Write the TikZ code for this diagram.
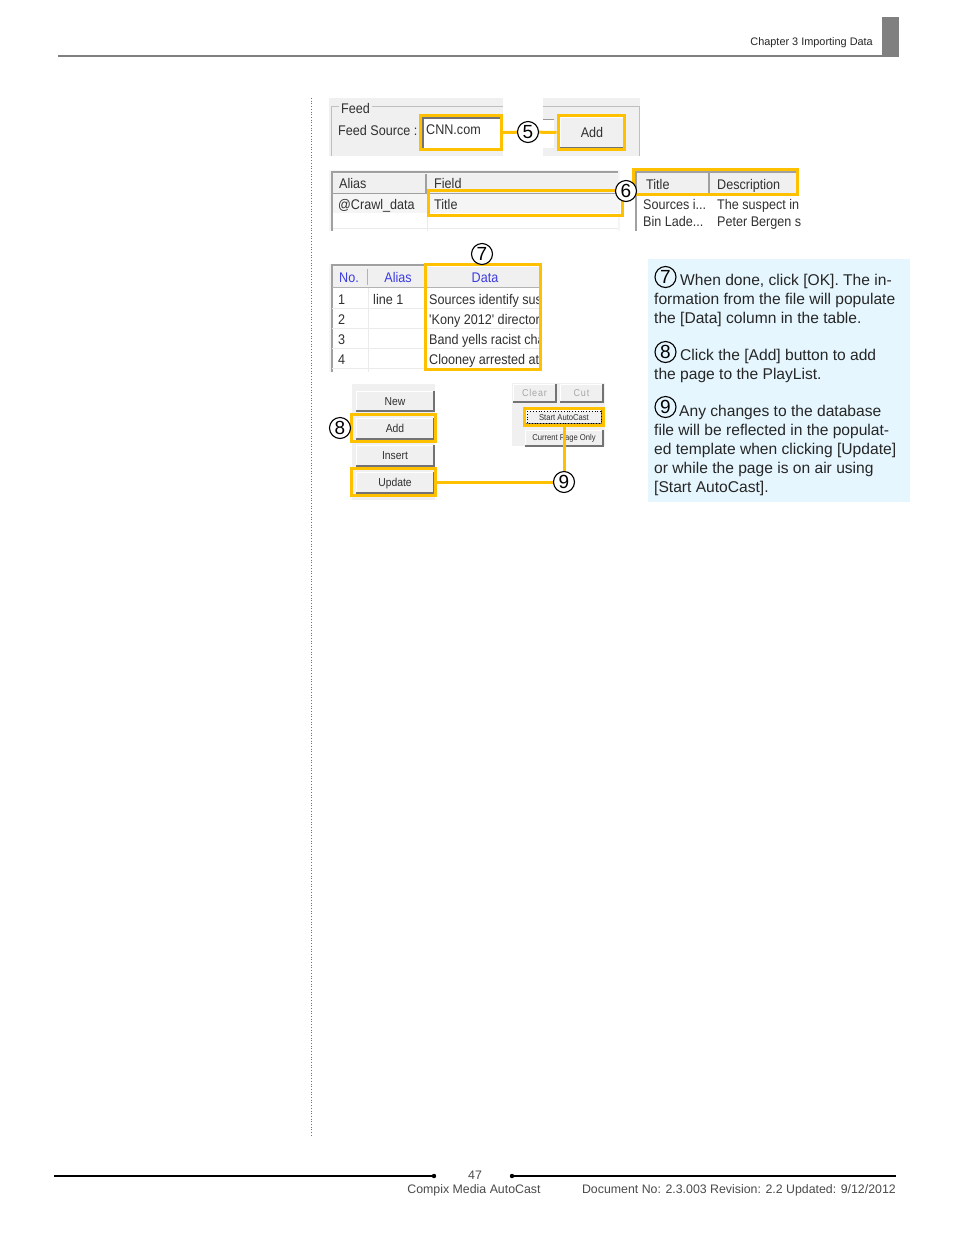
\documentclass[tikz,border=0pt]{standalone}
\usepackage{fontspec}
\setmainfont{Liberation Sans}
\newfontfamily\uifont[FakeStretch=0.9]{Liberation Sans}
\definecolor{hly}{HTML}{FFC000}
\definecolor{panel}{HTML}{F0F0F0}
\definecolor{edge}{HTML}{A0A0A0}
\definecolor{uitxt}{HTML}{303030}
\definecolor{hdr}{HTML}{3C3CE0}
\definecolor{note}{HTML}{E5F6FE}
\definecolor{ruleg}{HTML}{808080}
\definecolor{foot}{HTML}{4A4A4A}
\tikzset{
  ui/.style={font=\uifont\fontsize{14}{16}\selectfont,text=uitxt,inner sep=0pt,anchor=base west},
  uic/.style={ui,anchor=base},
  smallui/.style={uic,font=\uifont\fontsize{11.5}{13}\selectfont},
  tinyui/.style={uic,font=\uifont\fontsize{9}{10}\selectfont},
  hl/.style={draw=hly,line width=3pt,inner sep=0pt,rectangle},
  conn/.style={draw=hly,line width=3pt},
  callout/.style={circle,draw=black,line width=1.1pt,fill=white,minimum size=21pt,inner sep=0pt,font=\fontsize{19}{19}\selectfont},
  notetxt/.style={inner sep=0pt,anchor=north west,align=left,text=black!85,font=\fontsize{15.6}{19}\selectfont},
  foottxt/.style={inner sep=0pt,anchor=base,text=foot,font=\fontsize{12.35}{14}\selectfont},
  gridline/.style={draw=black!8,line width=.8pt},
  tableedge/.style={draw=edge,line width=2pt},
}
\newcommand{\uibtn}[8]{%
  \fill[panel] (#2,#3) rectangle (#4,#5);
  \draw[white,line width=1pt] (#2,#5) -- (#2,#3) -- (#4,#3);
  \draw[black!55,line width=1.2pt] (#2,#5) -- (#4,#5) -- (#4,#3);
  \node[#7] (#1) at ({(#2+#4)/2},{(#3+#5)/2+#8}) {#6};
}
\begin{document}
\begin{tikzpicture}[x=1pt,y=-1pt]
\useasboundingbox (0,0) rectangle (954,1235);
\fill[white] (0,0) rectangle (954,1235);
% page furniture
\fill[ruleg] (882,17) rectangle (899,56);
\draw[ruleg,line width=2pt] (58,56) -- (899,56);
\node[inner sep=0pt,anchor=base east,text=black!85,font=\fontsize{10.9}{12}\selectfont] (chap) at (873,45) {Chapter 3 Importing Data};
\draw[black!55,line width=.7pt,dotted] (311,98) -- (311,1136);
% footer
\coordinate (fl1) at (54,1176); \coordinate (fl2) at (434,1176);
\coordinate (fr1) at (512,1176); \coordinate (fr2) at (896,1176);
\draw[black,line width=2pt] (fl1) -- (fl2);
\draw[black,line width=2pt] (fr1) -- (fr2);
\fill (fl2) circle (2.2pt); \fill (fr1) circle (2.2pt);
\node[foottxt] (pg) at (475,1179) {47};
\node[foottxt] (prod) at (474,1193) {Compix Media AutoCast};
\node[foottxt,anchor=base east] (docno) at (896,1193) {Document No: 2.3.003 Revision: 2.2 Updated: 9/12/2012};
% feed panels
\fill[panel] (329,98) rectangle (503,156);
\fill[panel] (543,98) rectangle (640,156);
\draw[black!25,line width=1pt] (331,156) -- (331,106) -- (339,106);
\draw[black!25,line width=1pt] (372,106) -- (503,106);
\draw[black!25,line width=1pt] (543,106) -- (639,106) -- (639,156);
\fill[white] (543,119) rectangle (554,148);
\draw[black!40,line width=1pt] (543,119) -- (554,119);
\node[ui] (feed) at (341,113) {Feed};
\node[ui] (fs) at (338,135) {Feed Source :};
\fill[white] (422,117) rectangle (501,149);
\draw[black!55,line width=1.2pt] (423,148) -- (423,118) -- (500,118);
\node[ui] (cnn) at (426,134) {CNN.com};
\uibtn{addb}{560}{117}{624}{148}{Add}{uic}{5}
% field table
\fill[panel!70!white] (329,170) rectangle (620,231);
\fill[white] (333,213) rectangle (618,231);
\draw[gridline] (333,228) -- (618,228);
\draw[gridline] (427,213) -- (427,231);
\fill[panel] (333,174) rectangle (618,193);
\draw[edge,line width=1.6pt] (426,174) -- (426,193);
\draw[tableedge] (332,231) -- (332,172) -- (618,172);
\draw[edge,line width=1pt] (333,193) -- (618,193);
\node[ui] (alias) at (339,188) {Alias};
\node[ui] (field) at (434,188) {Field};
\node[ui] (crawl) at (338,209) {@Crawl\_data};
\node[ui] (ttl) at (434,209) {Title};
% title table
\fill[white] (634,168) rectangle (800,231);
\fill[panel] (636,172) rectangle (799,194);
\draw[tableedge] (636,231) -- (636,172) -- (799,172);
\draw[edge,line width=1.6pt] (709,173) -- (709,194);
\node[ui] (th1) at (646,189) {Title};
\node[ui] (th2) at (717,189) {Description};
\node[ui] (s1) at (643,209) {Sources i...};
\node[ui] (b1) at (643,226) {Bin Lade...};
\begin{scope}
\clip (710,198) rectangle (800,232);
\node[ui] (d1) at (717,209) {The suspect in};
\node[ui] (d2) at (717,226) {Peter Bergen said};
\end{scope}
% data table
\fill[panel!70!white] (329,264) rectangle (424,372);
\fill[white] (332,288) rectangle (541,372);
\fill[panel] (332,267) rectangle (541,287);
\draw[edge,line width=2pt] (331.5,372) -- (331.5,265) -- (541,265);
\draw[black!30,line width=.8pt] (332,287) -- (541,287);
\draw[black!30,line width=.8pt] (367.5,269) -- (367.5,285);
\foreach \yy in {308,328,348,368} \draw[gridline] (332,\yy) -- (541,\yy);
\draw[gridline] (368,288) -- (368,372);
\node[uic,text=hdr] (hno) at (349,282) {No.};
\node[uic,text=hdr] (hal) at (398,282) {Alias};
\node[uic,text=hdr] (hda) at (485,282) {Data};
\node[ui] (n1) at (338,304) {1};
\node[ui] (n2) at (338,324) {2};
\node[ui] (n3) at (338,344) {3};
\node[ui] (n4) at (338,364) {4};
\node[ui] (l1) at (373,304) {line 1};
\begin{scope}
\clip (425,288) rectangle (539.5,372);
\node[ui] (r1) at (429,304) {Sources identify suspect};
\node[ui] (r2) at (429,324) {'Kony 2012' director};
\node[ui] (r3) at (429,344) {Band yells racist chant};
\node[ui] (r4) at (429,364) {Clooney arrested at};
\end{scope}
% left buttons
\fill[panel] (352,384) rectangle (435,500);
\uibtn{bnew}{356}{391}{434}{411}{New}{smallui}{4}
\uibtn{badd}{356}{418}{434}{439}{Add}{smallui}{3.5}
\uibtn{bins}{356}{445}{434}{466}{Insert}{smallui}{4}
\uibtn{bupd}{356}{472}{434}{493}{Update}{smallui}{4}
% right buttons
\fill[panel] (512,383) rectangle (605,446);
\uibtn{bclr}{513}{384}{556}{402}{\addfontfeature{LetterSpace=8}Clear}{tinyui,text=black!35,font=\uifont\fontsize{10}{11}\selectfont}{3}
\uibtn{bcut}{560}{384}{603}{402}{\addfontfeature{LetterSpace=8}Cut}{tinyui,text=black!35,font=\uifont\fontsize{10}{11}\selectfont}{3}
\uibtn{bcur}{525}{430}{603}{446}{Current Page Only}{tinyui,font=\uifont\fontsize{8.5}{10}\selectfont}{2}
\uibtn{bsta}{526}{410}{602}{424}{Start AutoCast}{tinyui,font=\uifont\fontsize{8.5}{10}\selectfont}{3}
\draw[black,line width=.8pt,dotted] (527,411) rectangle (601,423);
% highlight rectangles
\node[hl,minimum width=81pt,minimum height=34pt] (h5a) at (461,132.5) {};
\node[hl,minimum width=66pt,minimum height=34pt] (h5b) at (591,132.5) {};
\node[hl,minimum width=194pt,minimum height=25pt] (h6a) at (525.5,203) {};
\node[hl,minimum width=164pt,minimum height=25pt] (h6b) at (715.5,182) {};
\node[hl,minimum width=115pt,minimum height=105pt] (h7) at (483,317) {};
\node[hl,minimum width=84pt,minimum height=27pt] (h8) at (393.5,428) {};
\node[hl,minimum width=84pt,minimum height=27pt] (h9a) at (393.5,482) {};
\node[hl,minimum width=79pt,minimum height=17pt] (h9b) at (564,417) {};
% callouts and connectors
\node[callout] (c5) at (528,132) {5};
\node[callout] (c6) at (626,191) {6};
\node[callout] (c7) at (482,254) {7};
\node[callout] (c8) at (340,428) {8};
\node[callout] (c9) at (564,482) {9};
\draw[conn] (h5a.east) -- (c5);
\draw[conn] (c5) -- (h5b.west);
\draw[conn] (h9a.east) -- (c9);
\draw[conn] (h9b.south) -- (c9);
% note
\fill[note] (648,259) rectangle (910,502);
\node[notetxt] (p7) at (654,273.5) {\hspace*{26pt}When done, click [OK]. The in-\\formation from the file will populate\\the [Data] column in the table.};
\node[notetxt] (p8) at (654,348.5) {\hspace*{26pt}Click the [Add] button to add\\the page to the PlayList.};
\node[notetxt] (p9) at (654,404.5) {\hspace*{25pt}Any changes to the database\\file will be reflected in the populat-\\ed template when clicking [Update]\\or while the page is on air using\\{[Start AutoCast].}};
\node[callout,fill=none] (n7) at (665.5,277) {7};
\node[callout,fill=none] (n8) at (665.5,352) {8};
\node[callout,fill=none] (n9) at (665.5,407) {9};
\end{tikzpicture}
\end{document}
